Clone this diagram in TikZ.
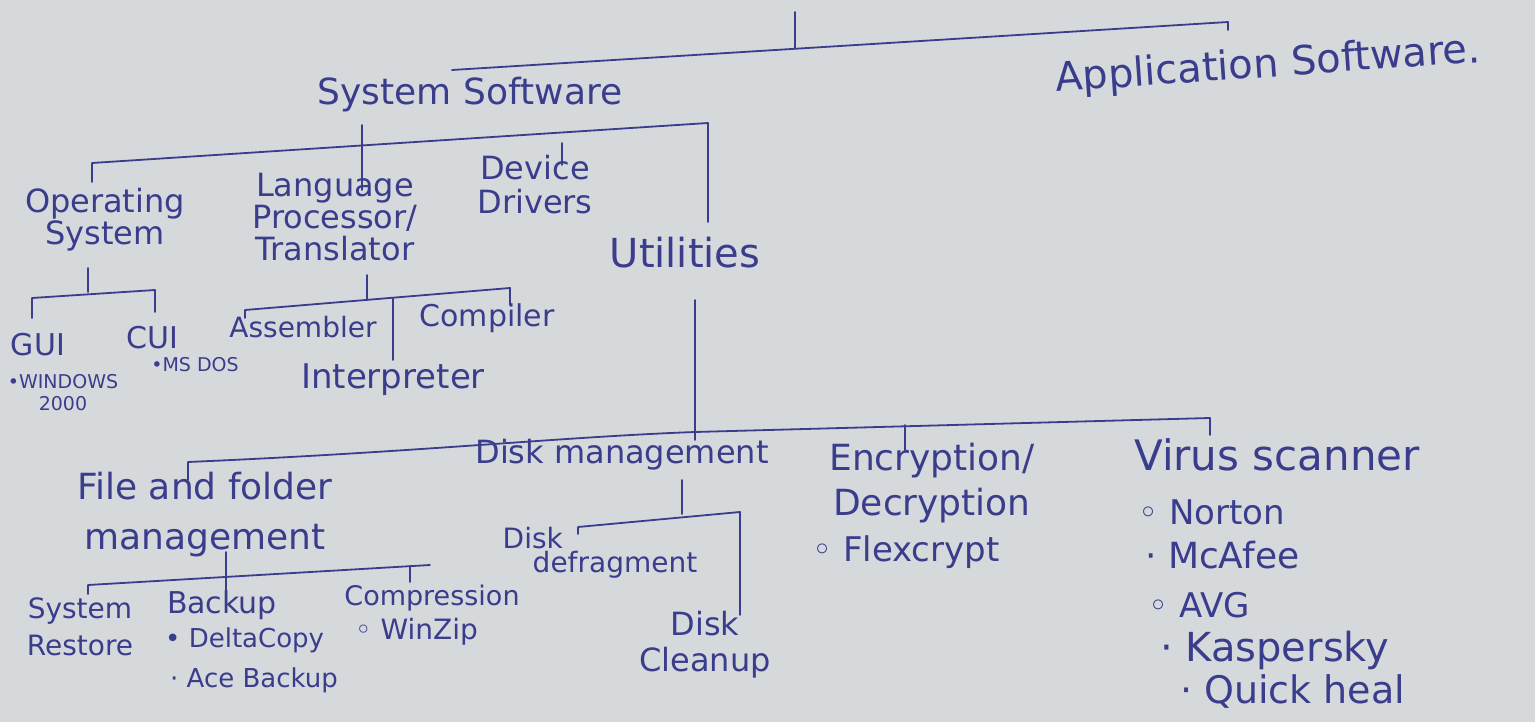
\documentclass[tikz,border=0pt]{standalone}
\usepackage{fontspec}
\setmainfont{DejaVu Sans}
\definecolor{ink}{RGB}{58,60,140}
\definecolor{paper}{RGB}{214,217,220}
\tikzset{
  lbl/.style={text=ink, align=center, inner sep=0pt},
  item/.style={text=ink, align=left, inner sep=0pt, anchor=west},
  ln/.style={draw=ink, line width=1.8pt, line cap=round, line join=round},
}
\newcommand{\fs}[2]{\fontsize{#1}{#2}\selectfont}
\begin{document}
\begin{tikzpicture}[x=1pt,y=-1pt]
\fill[paper] (0,0) rectangle (1535,722);
\useasboundingbox (0,0) rectangle (1535,722);

% ---------- texts ----------
\node[lbl, font=\fs{36}{40}] (ss) at (470,95) {System Software};
\node[lbl, font=\fs{40}{44}, rotate=4] (app) at (1268,66) {Application Software.};

\node[lbl, font=\fs{32}{32}] (os) at (105,220) {Operating\\System};
\node[lbl, font=\fs{32}{32}] (lp) at (335,217) {Language\\Processor/\\Translator};
\node[lbl, font=\fs{32}{34}] (dd) at (535,185) {Device\\Drivers};
\node[lbl, font=\fs{40}{40}] (ut) at (685,253) {Utilities};

\node[lbl, font=\fs{30}{30}] (gui) at (38,345) {GUI};
\node[lbl, font=\fs{30}{30}] (cui) at (152,338) {CUI};
\node[lbl, font=\fs{19}{22}] (win) at (63,393) {•WINDOWS\\2000};
\node[lbl, font=\fs{19}{22}] (msdos) at (195,365) {•MS DOS};
\node[lbl, font=\fs{28}{28}] (asm) at (303,327) {Assembler};
\node[lbl, font=\fs{30}{30}] (comp) at (487,318) {Compiler};
\node[lbl, font=\fs{34}{34}] (interp) at (393,380) {Interpreter};

\node[lbl, font=\fs{36}{50}] (ffm) at (205,515) {File and folder\\management};
\node[lbl, font=\fs{32}{32}] (dm) at (622,455) {Disk management};
\node[lbl, font=\fs{36}{45}] (enc) at (932,483) {Encryption/\\Decryption};
\node[lbl, font=\fs{42}{42}] (vs) at (1277,455) {Virus scanner};

\node[item, font=\fs{34}{34}] (flex) at (812,552) {◦ Flexcrypt};
\node[item, font=\fs{34}{34}] (nor) at (1138,512) {◦ Norton};
\node[item, font=\fs{36}{36}] (mca) at (1145,555) {· McAfee};
\node[item, font=\fs{34}{34}] (avg) at (1148,605) {◦ AVG};
\node[item, font=\fs{40}{40}] (kas) at (1160,650) {· Kaspersky};
\node[item, font=\fs{38}{38}] (qh) at (1180,692) {· Quick heal};

\node[lbl, font=\fs{28}{24}, align=left] (ddf) at (600,553) {Disk\\\hspace*{30pt}defragment};
\node[lbl, font=\fs{32}{36}] (dcl) at (705,645) {Disk\\Cleanup};

\node[lbl, font=\fs{28}{37}] (sr) at (80,627) {System\\Restore};
\node[lbl, font=\fs{30}{30}] (bk) at (222,605) {Backup};
\node[item, font=\fs{26}{26}] (dc) at (165,640) {• DeltaCopy};
\node[item, font=\fs{26}{26}] (ace) at (170,680) {· Ace Backup};
\node[lbl, font=\fs{27}{27}] (cmp) at (432,598) {Compression};
\node[item, font=\fs{28}{28}] (wz) at (355,632) {◦ WinZip};

% ---------- top level ----------
\coordinate (rootTop) at (795,12);
\coordinate (rootMid) at (795,48);
\coordinate (topL) at (452,70);
\coordinate (topR) at (1228,22);
\coordinate (topRt) at (1228,30);
\draw[ln] (rootTop) -- (rootMid);
\draw[ln] (topL) -- (topR) -- (topRt);

% ---------- system software ----------
\coordinate (ssDrop) at (362,125);
\coordinate (lpTop) at (362,190);
\coordinate (l2L) at (92,163);
\coordinate (osTop) at (92,182);
\coordinate (l2R) at (708,123);
\coordinate (utTop) at (708,222);
\coordinate (ddA) at (562,143);
\coordinate (ddB) at (562,165);
\draw[ln] (osTop) -- (l2L) -- (l2R) -- (utTop);
\draw[ln] (ssDrop) -- (lpTop);
\draw[ln] (ddA) -- (ddB);

% ---------- operating system ----------
\coordinate (osA) at (88,268);
\coordinate (osB) at (88,292);
\coordinate (osL) at (32,298);
\coordinate (guiTop) at (32,318);
\coordinate (osR) at (155,290);
\coordinate (cuiTop) at (155,312);
\draw[ln] (osA) -- (osB);
\draw[ln] (guiTop) -- (osL) -- (osR) -- (cuiTop);

% ---------- language processor ----------
\coordinate (lpA) at (367,275);
\coordinate (lpB) at (367,300);
\coordinate (lpL) at (245,310);
\coordinate (asmTop) at (245,318);
\coordinate (lpR) at (510,288);
\coordinate (compTop) at (510,305);
\coordinate (inA) at (393,298);
\coordinate (inB) at (393,360);
\draw[ln] (lpA) -- (lpB);
\draw[ln] (asmTop) -- (lpL) -- (lpR) -- (compTop);
\draw[ln] (inA) -- (inB);

% ---------- utilities ----------
\coordinate (utA) at (695,300);
\coordinate (utB) at (695,440);
\coordinate (uL) at (188,462);
\coordinate (ffTop) at (188,480);
\coordinate (uM) at (695,432);
\coordinate (uR) at (1210,418);
\coordinate (vsTop) at (1210,435);
\coordinate (encA) at (905,425);
\coordinate (encB) at (905,450);
\draw[ln] (utA) -- (utB);
\draw[ln] (ffTop) -- (uL) .. controls (420,452) and (560,437) .. (uM) -- (uR) -- (vsTop);
\draw[ln] (encA) -- (encB);

% ---------- disk management ----------
\coordinate (dmA) at (682,480);
\coordinate (dmB) at (682,514);
\coordinate (dmL) at (578,527);
\coordinate (ddfTop) at (578,534);
\coordinate (dmR) at (740,512);
\coordinate (dclTop) at (740,615);
\draw[ln] (dmA) -- (dmB);
\draw[ln] (ddfTop) -- (dmL) -- (dmR) -- (dclTop);

% ---------- file and folder management ----------
\coordinate (ffA) at (226,552);
\coordinate (ffB) at (226,598);
\coordinate (ffL) at (88,585);
\coordinate (srTop) at (88,594);
\coordinate (ffR) at (430,565);
\coordinate (cmA) at (410,566);
\coordinate (cmB) at (410,582);
\draw[ln] (ffA) -- (ffB);
\draw[ln] (srTop) -- (ffL) -- (ffR);
\draw[ln] (cmA) -- (cmB);
\end{tikzpicture}
\end{document}
